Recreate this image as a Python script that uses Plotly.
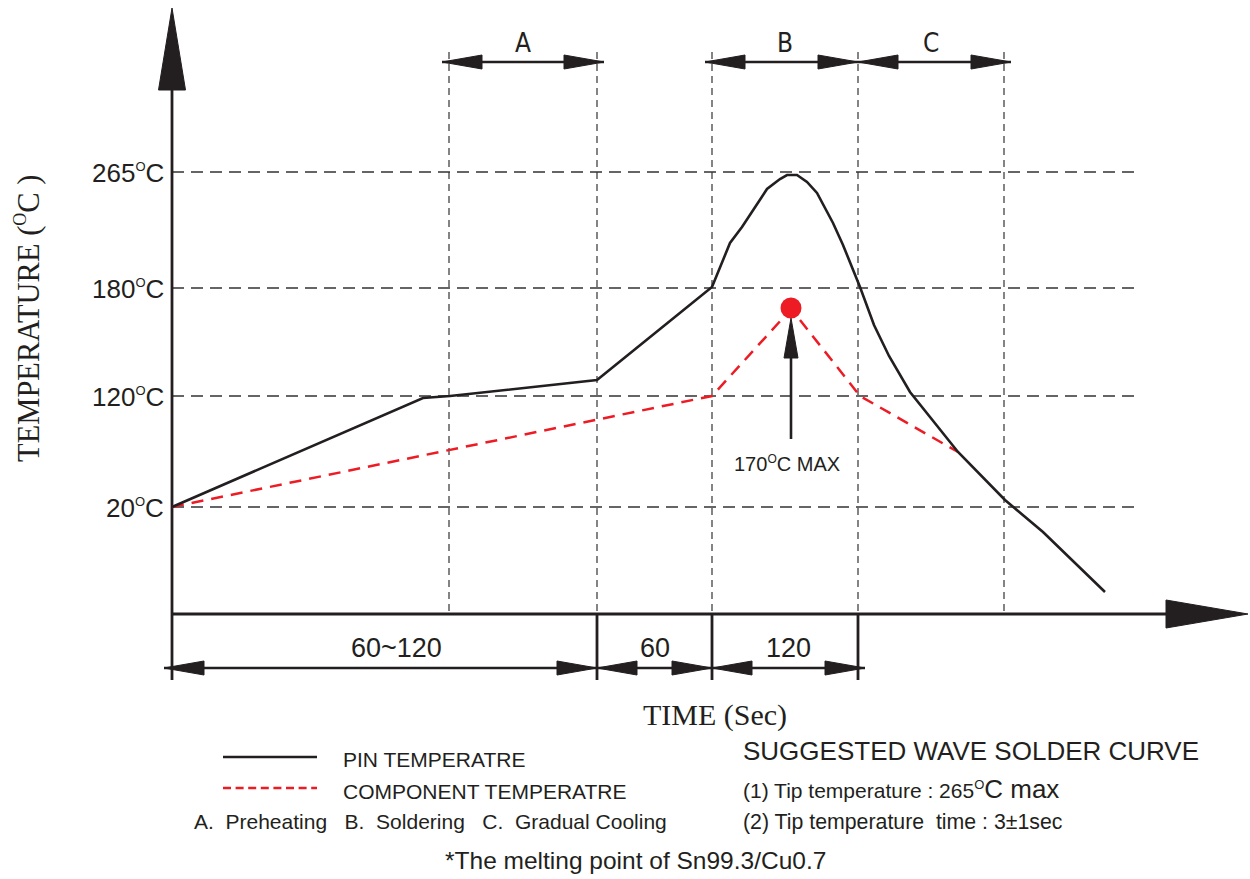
import plotly.graph_objects as go

# ---------------- data (diagram scale: x = time position, y = temperature position) -------------
temp_labels = ["265", "180", "120", "20"]
temp_levels = [172, 288, 396, 507]

phase_bounds = [172, 449, 597, 712, 858, 1004]

# pin temperature curve
pin_x = [172, 423, 450, 597, 712, 730, 742, 767, 780, 787, 797, 807, 817, 833, 843, 860,
         874, 889, 910, 930, 958, 1005, 1043, 1105]
pin_y = [507, 398, 396, 380, 287, 243, 227, 189, 179, 175, 175, 182, 193, 223, 245, 287,
         325, 356, 392, 417, 452, 500, 532, 592]

# component temperature curve
comp_x = [172, 712, 783, None, 800, 860, 958]
comp_y = [507, 396, 318, None, 320, 396, 452]

# component peak (170 C max)
peak_x = [791]
peak_y = [308]

# phase labels (top) and time segments (bottom)
phase_names = ["A", "B", "C"]
phase_spans = [(449, 597), (712, 858), (858, 1004)]
seg_names = ["60~120", "60", "120"]
seg_spans = [(172, 597), (597, 712), (712, 858)]

# ---------------- geometry helpers ----------------
def tri(tx, ty, dx, dy, length, half):
    bx, by = tx - dx * length, ty - dy * length
    px, py = -dy, dx
    return ([tx, bx + px * half, bx - px * half, tx, None],
            [ty, by + py * half, by - py * half, ty, None])

BLACK = "#231f20"
RED = "#ed1c24"
GRID = "#333333"
NARROW = "Liberation Sans Narrow, Arial Narrow, Liberation Sans, sans-serif"
SANS = "Liberation Sans, Arial, sans-serif"
SERIF = "Liberation Serif, Times New Roman, serif"
DEG = "<sup><span style='font-size:13px'>O</span></sup>"

fig = go.Figure()

X_AXIS_Y = 614
Y_AXIS_X = phase_bounds[0]
GRID_END = 1141
TOP_Y = 52
TOP_ARROW_Y = 62
BOT_ARROW_Y = 668
BOT_TICK_END = 680

# horizontal dashed grid
gx, gy = [], []
for lv in temp_levels:
    gx += [Y_AXIS_X, GRID_END, None]
    gy += [lv, lv, None]
fig.add_trace(go.Scatter(x=gx, y=gy, mode="lines",
                         line=dict(color=GRID, width=1.5, dash="12px,7px"), hoverinfo="skip"))

# vertical dashed lines
vx, vy = [], []
for b in phase_bounds[1:]:
    vx += [b, b, None]
    vy += [TOP_Y, X_AXIS_Y, None]
fig.add_trace(go.Scatter(x=vx, y=vy, mode="lines",
                         line=dict(color=GRID, width=1.2, dash="7px,5px"), hoverinfo="skip"))

# axes lines and bottom ticks
ax_x = [Y_AXIS_X, Y_AXIS_X, None, Y_AXIS_X, 1170, None]
ax_y = [85, BOT_TICK_END, None, X_AXIS_Y, X_AXIS_Y, None]
for b in [597, 712, 858]:
    ax_x += [b, b, None]
    ax_y += [X_AXIS_Y, BOT_TICK_END, None]
fig.add_trace(go.Scatter(x=ax_x, y=ax_y, mode="lines",
                         line=dict(color=BLACK, width=2.8), hoverinfo="skip"))

# arrowheads of axes
hx, hy = [], []
a, b = tri(Y_AXIS_X, 8, 0, -1, 82, 13.5); hx += a; hy += b
a, b = tri(1248, X_AXIS_Y, 1, 0, 82, 14); hx += a; hy += b

# dimension arrows
dx_, dy_ = [], []
def dim_arrows(spans, y, overshoot_first, overshoot_last):
    global hx, hy, dx_, dy_
    n = len(spans)
    for i, (s, e) in enumerate(spans):
        ls = s - (overshoot_first if i == 0 or spans[i - 1][1] != s else 0)
        le = e + (overshoot_last if i == n - 1 or spans[i + 1][0] != e else 0)
        dx_ += [ls, le, None]
        dy_ += [y, y, None]
        a, b = tri(ls, y, -1, 0, 40, 7); hx += a; hy += b
        a, b = tri(le, y, 1, 0, 40, 7); hx += a; hy += b

dim_arrows(phase_spans, TOP_ARROW_Y, 7, 7)
dim_arrows(seg_spans, BOT_ARROW_Y, 8, 7)
fig.add_trace(go.Scatter(x=dx_, y=dy_, mode="lines",
                         line=dict(color=BLACK, width=2.6), hoverinfo="skip"))

# 170C max pointer arrow
fig.add_trace(go.Scatter(x=[peak_x[0], peak_x[0]], y=[439, 350], mode="lines",
                         line=dict(color=BLACK, width=2.6), hoverinfo="skip"))
a, b = tri(peak_x[0], peak_y[0] + 10, 0, -1, 40, 7); hx += a; hy += b

fig.add_trace(go.Scatter(x=hx, y=hy, mode="lines", fill="toself", fillcolor=BLACK,
                         line=dict(color=BLACK, width=1), hoverinfo="skip"))

# curves
fig.add_trace(go.Scatter(x=comp_x, y=comp_y, mode="lines",
                         line=dict(color=RED, width=2.5, dash="12px,8px"), hoverinfo="skip"))
fig.add_trace(go.Scatter(x=pin_x, y=pin_y, mode="lines",
                         line=dict(color=BLACK, width=2.6), hoverinfo="skip"))
fig.add_trace(go.Scatter(x=peak_x, y=peak_y, mode="markers",
                         marker=dict(color=RED, size=21, line=dict(width=0)), hoverinfo="skip"))

# legend lines
fig.add_trace(go.Scatter(x=[223, 317], y=[757, 757], mode="lines",
                         line=dict(color=BLACK, width=2.6), hoverinfo="skip"))
fig.add_trace(go.Scatter(x=[223, 317], y=[788, 788], mode="lines",
                         line=dict(color=RED, width=2.4, dash="8px,4.6px"), hoverinfo="skip"))

# ---------------- text ----------------
ann = []
def text(x, y, t, size, family=NARROW, xanchor="center", color=BLACK, angle=0):
    ann.append(dict(x=x, y=y, xref="x", yref="y", text=t, showarrow=False,
                    xanchor=xanchor, yanchor="middle", textangle=angle,
                    font=dict(size=size, family=family, color=color)))

for lab, lv in zip(temp_labels, temp_levels):
    text(166, lv + 1, f"{lab}{DEG}C", 26, xanchor="right")

for name, (s, e) in zip(phase_names, phase_spans):
    text((s + e) / 2, 43, name, 26, family="DejaVu Sans Condensed, " + NARROW)
for name, (s, e) in zip(seg_names, seg_spans):
    text((s + e) / 2 + (12 if name == "60~120" else 0) + (3 if name == "120" else 0),
         648, name, 27)

text(787, 463, "170<sup><span style='font-size:12px'>O</span></sup>C MAX", 20)
text(715, 715, "TIME (Sec)", 30, family=SERIF)
text(28, 318, "TEMPERATURE (<sup><span style='font-size:18px'>O</span></sup>C )", 30.5,
     family=SERIF, angle=-90)

text(341, 759, "PIN TEMPERATRE", 21, xanchor="left")
text(341, 791, "COMPONENT TEMPERATRE", 21, xanchor="left")
text(192, 821, "A.  Preheating   B.  Soldering   C.  Gradual Cooling", 21, xanchor="left")
text(443, 860, "*The melting point of Sn99.3/Cu0.7", 24.5, xanchor="left")
text(741, 751, "SUGGESTED WAVE SOLDER CURVE", 26, family=SANS, xanchor="left")
text(741, 789, "(1) Tip temperature : 265<sup><span style='font-size:13px'>O</span></sup>"
     "<span style='font-size:26px'>C max</span>", 21, xanchor="left")
text(741, 822, "(2) Tip temperature  time : 3\u00b11sec", 21.3, xanchor="left")

fig.update_layout(
    width=1250, height=879, autosize=False,
    margin=dict(l=0, r=0, t=0, b=0),
    paper_bgcolor="white", plot_bgcolor="white",
    showlegend=False,
    xaxis=dict(range=[0, 1250], visible=False, fixedrange=True),
    yaxis=dict(range=[879, 0], visible=False, fixedrange=True),
    annotations=ann,
)

fig.write_html("out.html", config={"displayModeBar": False},
               post_script="document.body.style.margin='0';")
